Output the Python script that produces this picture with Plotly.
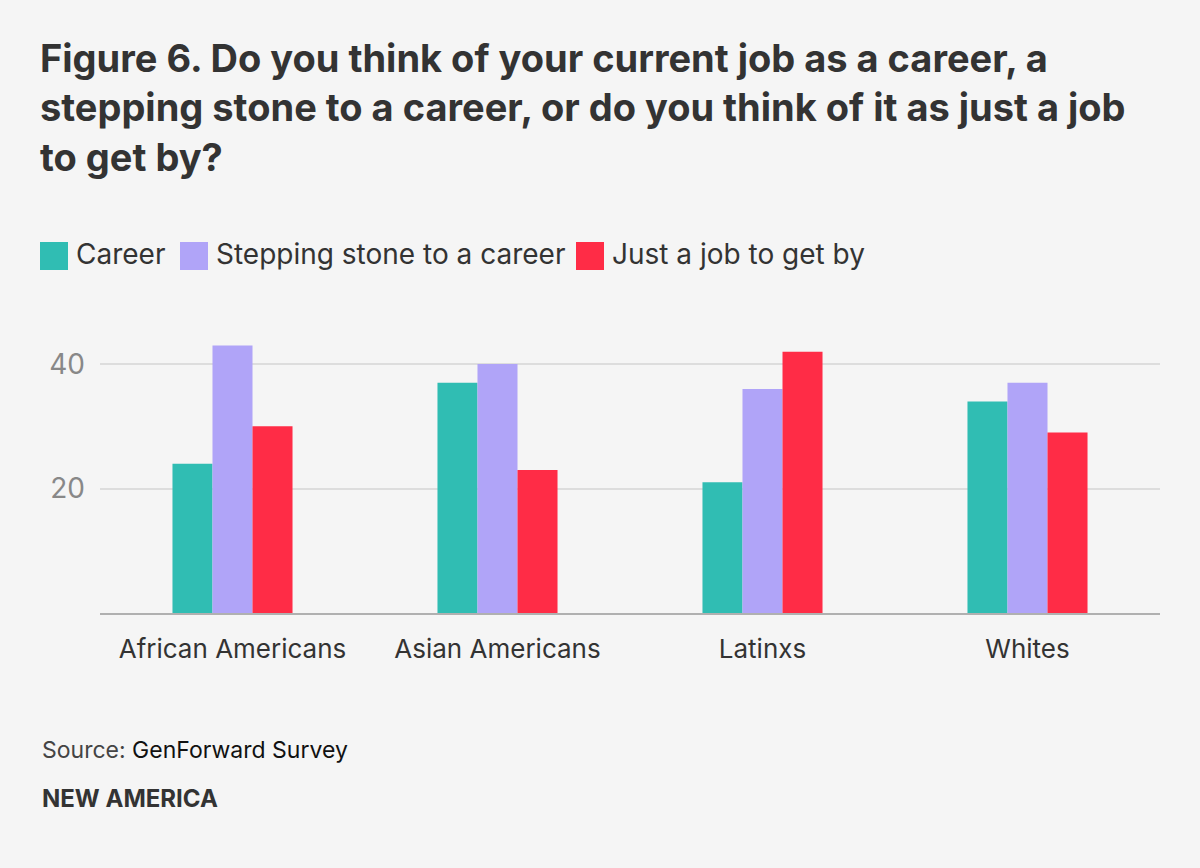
import plotly.graph_objects as go

groups = ["African Americans", "Asian Americans", "Latinxs", "Whites"]
series_names = ["Career", "Stepping stone to a career", "Just a job to get by"]
career = [24, 37, 21, 34]
stepping_stone = [43, 40, 36, 37]
just_a_job = [30, 23, 42, 29]
y_ticks = [20, 40]

colors = ["#30BDB3", "#B0A4F8", "#FF2C46"]
values = [career, stepping_stone, just_a_job]

W, H = 1200, 868
L, R, T, B = 100, 40, 333, 255
plot_w = W - L - R
plot_h = H - T - B


def px_x(px):
    return (px - L) / plot_w


def px_y(py):
    return (H - B - py) / plot_h


fig = go.Figure()
for name, vals, col in zip(series_names, values, colors):
    fig.add_trace(go.Bar(x=groups, y=vals, name=name, marker_color=col,
                         marker_line_width=0, showlegend=False))

# legend drawn by hand: big square swatches like the original
legend_x = [40, 180, 576]
shapes = []
annotations = []
for x0, name, col in zip(legend_x, series_names, colors):
    shapes.append(dict(type="rect", xref="paper", yref="paper",
                       x0=px_x(x0), x1=px_x(x0 + 28), y0=px_y(270), y1=px_y(242),
                       fillcolor=col, line_width=0))
    annotations.append(dict(text=name, xref="paper", yref="paper",
                            x=px_x(x0 + 34), y=px_y(254), xanchor="left", yanchor="middle",
                            showarrow=False, font=dict(family="Inter", size=28, color="#333")))

annotations.append(dict(
    text="<span style='color:#444'>Source: </span><span style='color:#111'>GenForward Survey</span>",
    xref="paper", yref="paper", x=px_x(40), y=px_y(750), xanchor="left", yanchor="middle",
    showarrow=False, font=dict(family="Inter", size=23)))
annotations.append(dict(
    text="<b>NEW AMERICA</b>", xref="paper", yref="paper", x=px_x(40), y=px_y(798),
    xanchor="left", yanchor="middle", showarrow=False,
    font=dict(family="Inter", size=24, color="#333")))

fig.update_layout(
    width=W, height=H,
    margin=dict(l=L, r=R, t=T, b=B),
    paper_bgcolor="#F5F5F5", plot_bgcolor="#F5F5F5",
    barmode="group", bargap=0.547, bargroupgap=0,
    title=dict(text="<b>Figure 6. Do you think of your current job as a career, a<br>"
                    "stepping stone to a career, or do you think of it as just a job<br>"
                    "to get by?</b>",
               xref="container", yref="container", x=40 / W, y=1 - 72 / H,
               xanchor="left", yanchor="top",
               font=dict(family="Inter", size=38, color="#333")),
    xaxis=dict(showgrid=False, showline=True, linecolor="#B0B0B0", linewidth=2,
               ticks="", tickfont=dict(family="Inter", size=26, color="#333"),
               ticklabelstandoff=12),
    yaxis=dict(range=[0, 45], tickvals=y_ticks, showgrid=True, gridcolor="#DDDDDD",
               gridwidth=2, zeroline=False, showline=False, ticks="",
               tickfont=dict(family="Inter", size=28, color="#888"),
               ticklabelstandoff=14),
    shapes=shapes,
    annotations=annotations,
)

fig.write_html("out.html", config={"displayModeBar": False},
               post_script="document.body.style.margin='0';"
                           "document.body.style.background='#F5F5F5';")
